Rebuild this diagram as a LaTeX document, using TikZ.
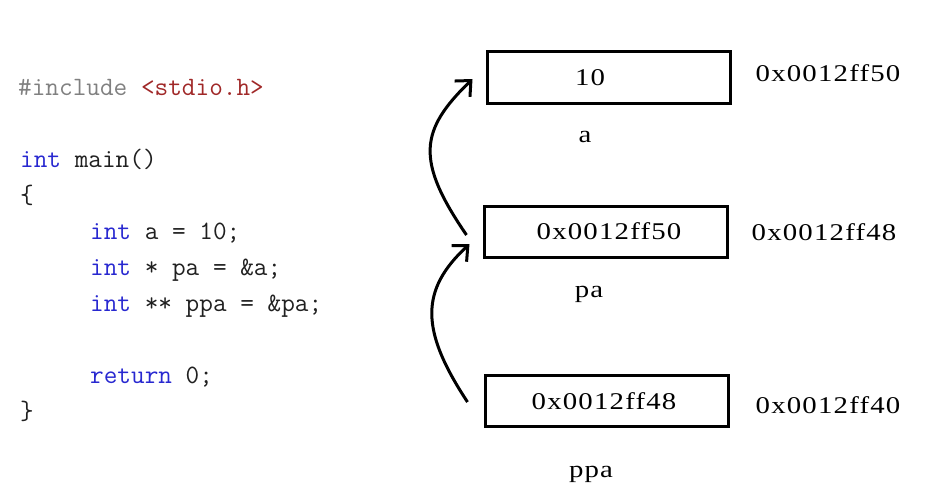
\documentclass[tikz,border=0pt]{standalone}
\usepackage{fontspec}
\newfontfamily\memfont[FakeStretch=1.2,LetterSpace=5,Ligatures=NoCommon]{Liberation Serif}
\usetikzlibrary{arrows.meta}
\definecolor{kwblue}{HTML}{2828D0}
\definecolor{strred}{HTML}{A02828}
\definecolor{pregray}{HTML}{808080}
\definecolor{codeblk}{HTML}{202020}
\tikzset{
  code/.style={anchor=base west, inner sep=0pt, text=codeblk, font=\ttfamily\fontsize{26.5}{30}\selectfont},
  membox/.style={draw, line width=3pt, minimum width=243pt, minimum height=51pt, inner sep=0pt},
  memtxt/.style={inner sep=0pt, font=\memfont\fontsize{24}{28}\selectfont},
  ptr/.style={line width=3pt, -{Straight Barb[length=12pt,width=22pt,line width=3pt]}},
}
\begin{document}
\begin{tikzpicture}[x=1pt,y=-1pt]
\useasboundingbox (0,0) rectangle (928,495);
% code
\node[code] (l1) at (18,95) {\textcolor{pregray}{\#include} \textcolor{strred}{<stdio.h>}};
\node[code] (l2) at (20,167) {\textcolor{kwblue}{int} main()};
\node[code] (l3) at (20,203) {\{};
\node[code] (l4) at (90,239) {\textcolor{kwblue}{int} a = 10;};
\node[code] (l5) at (90,275) {\textcolor{kwblue}{int} * pa = \&a;};
\node[code] (l6) at (90,311) {\textcolor{kwblue}{int} ** ppa = \&pa;};
\node[code] (l7) at (90,383) {\textcolor{kwblue}{return} 0;};
\node[code] (l8) at (20,419) {\}};
% boxes
\node[membox] (ba) at (608.5,77.5) {};
\node[membox] (bpa) at (605.5,231.5) {};
\node[membox] (bppa) at (606.5,401) {};
% contents
\node[memtxt] (va) at (590,78) {10};
\node[memtxt] (vpa) at (609,231) {0x0012ff50};
\node[memtxt] (vppa) at (604,401) {0x0012ff48};
% names
\node[memtxt] (na) at (585,137) {a};
\node[memtxt] (npa) at (589,294) {pa};
\node[memtxt] (nppa) at (591,474) {ppa};
% addresses
\node[memtxt] (aa) at (828,73) {0x0012ff50};
\node[memtxt] (apa) at (824,232) {0x0012ff48};
\node[memtxt] (appa) at (828,405) {0x0012ff40};
% arrows
\coordinate (s1) at ([xshift=-16pt,yshift=-3.5pt]bpa.west);
\coordinate (e1) at ([xshift=-13pt,yshift=-1.5pt]ba.west);
\coordinate (s2) at ([xshift=-16pt,yshift=-1pt]bppa.west);
\coordinate (e2) at ([xshift=-13pt,yshift=-12.5pt]bpa.west);
\draw[ptr] (s1) .. controls (415,160) and (420,130) .. (e1);
\draw[ptr] (s2) .. controls (420,330) and (420,290) .. (e2);
\end{tikzpicture}
\end{document}
